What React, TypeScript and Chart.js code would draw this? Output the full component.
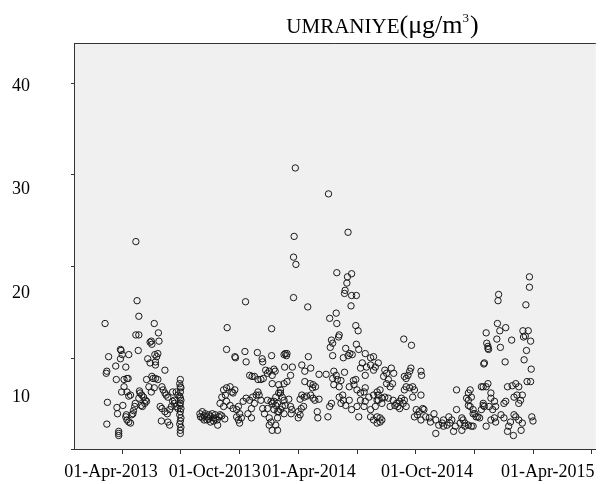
import { useEffect, useRef } from "react";
import { Chart, registerables } from "chart.js";

Chart.register(...registerables);

// ---- text ----
const TITLE_MAIN = "UMRANIYE";
const TITLE_UNIT = "(μg/m";
const TITLE_SUP = "3";
const TITLE_CLOSE = ")";

// ---- axes ----
const X_MIN = -69.4;
const X_MAX = 810.9;
const Y_MIN = 5;
const Y_MAX = 44.15;
const yLabelValues = [10, 20, 30, 40];
const yTickMarkValues = [40.29, 31.47, 22.65, 13.82, 5.0];
const xLabelPositions = [-7, 168, 327, 526, 730];
const xLabels = ["01-Apr-2013", "01-Oct-2013", "01-Apr-2014", "01-Oct-2014", "01-Apr-2015"];
const xTickMarkValues = [11, 109, 209, 309, 408, 506, 605, 705, 803];

// ---- observations: [day index, concentration] ----
const spring2013: [number, number][] = [
  [-17, 17.1], [-11, 13.9], [-15, 12.3], [-14, 12.5], [-13, 9.5], [-14, 7.4], [6, 6.5], [6, 6.3], [6, 6.7],
  [1, 13.0], [2, 11.7], [3, 9.0], [4, 8.4], [9, 13.7], [9, 14.6], [10, 14.5], [12, 14.1], [18, 12.9], [15, 11.7],
  [20, 11.8], [22, 11.8], [11, 10.5], [15, 11.0], [20, 10.5], [23, 10.1], [26, 10.2], [13, 9.2], [18, 8.1],
  [20, 7.8], [23, 7.6], [26, 7.5], [19, 8.3], [28, 8.3], [30, 8.4], [31, 8.7], [33, 9.1], [34, 9.4], [23, 14.1],
  [35, 25.0], [37, 19.3], [40, 17.8], [35, 16.0], [40, 16.0], [39, 14.5], [41, 10.6], [42, 10.4], [45, 10.2],
  [48, 10.0], [51, 9.7], [50, 9.4], [53, 9.6], [40, 9.9], [44, 9.2], [46, 9.1], [55, 13.7], [59, 13.3], [59, 15.3],
  [62, 15.1], [61, 15.4], [53, 11.7], [62, 12.0], [64, 11.8], [68, 11.8], [72, 11.7], [66, 17.1], [73, 16.2],
  [74, 15.4], [67, 14.1], [70, 13.9], [68, 13.4], [72, 14.2], [68, 13.1], [57, 11.0], [61, 10.5], [66, 10.9],
  [79, 11.0], [81, 10.7], [84, 10.4], [86, 10.2], [89, 10.0], [84, 12.6], [76, 9.1], [79, 8.9], [84, 8.6],
  [88, 8.4], [92, 8.8], [95, 9.1], [97, 9.6], [100, 9.7], [97, 10.5], [78, 7.7], [89, 7.6], [92, 7.3], [100, 9.4],
  [103, 9.1], [106, 8.9], [103, 10.5], [106, 10.2],
  [110, 11.7], [109, 11.3], [111, 10.9], [110, 10.5], [109, 10.1], [111, 9.7], [110, 9.4], [109, 9.2], [111, 8.9],
  [110, 8.6], [109, 8.3], [111, 8.0], [110, 7.7], [109, 7.4], [111, 7.1], [110, 6.8], [110, 6.5], [110, 11.0], [110, 9.9],
];

const autumn2013: [number, number][] = [
  [143, 8.4], [147, 8.6], [150, 8.2], [152, 8.4], [155, 8.1], [158, 8.3], [161, 8.1], [164, 8.4], [166, 8.0],
  [169, 8.3], [172, 7.8], [175, 8.1], [177, 8.3], [180, 8.2], [185, 7.9], [173, 7.3], [161, 7.6], [155, 7.8],
  [144, 8.1], [150, 7.8], [147, 8.0], [158, 7.9], [166, 7.7], [169, 7.9],
  [189, 16.7], [220, 19.2], [188, 14.6], [202, 13.9], [203, 13.8], [219, 14.4], [221, 13.4], [240, 14.3],
  [248, 13.7], [249, 13.4], [264, 14.0], [227, 12.1], [231, 12.0], [235, 12.0], [241, 11.7], [246, 11.7],
  [250, 11.8], [254, 12.6], [257, 12.3], [260, 12.5], [265, 12.1], [270, 12.5], [268, 12.7], [265, 11.3], [264, 16.6],
  [183, 10.7], [188, 10.9], [194, 11.0], [197, 10.5], [199, 10.4], [202, 10.7], [186, 10.2], [180, 10.0],
  [177, 9.4], [183, 9.1], [188, 9.6], [194, 9.2], [199, 8.9], [205, 8.8], [208, 9.1], [210, 8.4], [213, 8.0],
  [208, 7.8], [210, 7.5], [205, 8.1], [216, 9.6], [221, 9.9], [227, 9.7], [232, 10.0], [238, 10.2], [241, 10.5],
  [243, 10.2], [246, 9.7], [235, 9.4], [230, 8.9], [224, 8.4], [230, 8.0], [249, 8.9], [257, 9.7], [263, 9.6],
  [265, 9.4], [271, 9.2], [274, 8.6], [276, 10.4], [279, 10.7], [271, 10.0], [260, 8.0], [263, 7.6], [271, 7.3],
  [274, 8.0], [265, 6.8], [282, 9.1], [285, 8.4],
];

const spring2014: [number, number][] = [
  [304, 32.1], [360, 29.6], [302, 25.5], [393, 25.9], [301, 23.5], [305, 22.8], [374, 22.0], [399, 21.9],
  [392, 21.6], [391, 21.0], [388, 20.3], [387, 20.0], [399, 19.8], [407, 19.8], [301, 19.6], [325, 18.7], [398, 18.8],
  [287, 14.2], [290, 14.2], [289, 14.0], [326, 13.9], [362, 17.6], [373, 18.1], [374, 17.1], [378, 16.0],
  [377, 15.8], [365, 15.5], [367, 15.2], [363, 14.8], [367, 14.0], [406, 16.9], [410, 16.4], [407, 15.1],
  [389, 14.7], [385, 13.8], [393, 14.0], [396, 14.2], [400, 14.1], [411, 14.6], [422, 14.2], [431, 13.8],
  [417, 13.3], [424, 12.9], [414, 12.8], [422, 12.1], [406, 11.7],
  [286, 12.9], [299, 12.9], [296, 12.1], [290, 11.5], [315, 13.1], [330, 12.8], [320, 12.5], [344, 12.2],
  [356, 12.2], [369, 12.5], [373, 12.1], [367, 11.8], [375, 11.7], [387, 12.4], [381, 11.6], [369, 11.2],
  [378, 11.0], [395, 11.0], [402, 11.6], [320, 11.5], [329, 11.3], [334, 11.2], [338, 11.0], [333, 10.9],
  [315, 10.2], [319, 10.0], [323, 10.1], [312, 9.8], [330, 10.2], [334, 9.9], [337, 9.7], [344, 9.8],
  [276, 11.2], [279, 10.4], [282, 10.0], [285, 9.7], [293, 9.8], [268, 9.6], [274, 9.4], [279, 8.8], [276, 8.6],
  [287, 9.2], [296, 9.1], [298, 8.8], [297, 8.4], [309, 8.6], [312, 8.3], [309, 8.0], [314, 8.9], [318, 9.1],
  [341, 8.6], [342, 8.0], [359, 8.1], [362, 9.1], [365, 9.4], [378, 10.0], [384, 10.2], [385, 9.7], [381, 9.4],
  [260, 7.3], [274, 6.8], [268, 8.8], [252, 8.4], [257, 8.9], [285, 14.1], [285, 11.3], [395, 9.7], [389, 9.2], [399, 8.8],
];

const summer2014: [number, number][] = [
  [403, 11.2], [408, 10.7], [414, 10.4], [420, 10.5], [422, 10.9], [428, 10.0], [436, 10.2], [442, 10.5],
  [447, 10.7], [444, 9.7], [450, 9.4], [439, 9.1], [431, 8.8], [420, 9.1], [408, 9.1], [411, 8.1], [431, 8.1],
  [436, 7.8], [442, 7.5], [447, 8.0], [414, 9.7], [422, 9.6], [431, 13.1], [439, 12.9], [444, 13.3],
  [487, 15.6], [500, 15.0], [436, 13.9], [436, 12.6], [455, 12.6], [458, 12.3], [453, 12.0], [461, 11.7],
  [466, 12.8], [470, 12.3], [468, 11.3], [464, 11.0], [458, 11.3], [444, 10.2], [442, 9.7], [450, 9.9],
  [455, 10.0], [461, 9.9], [464, 9.1], [442, 8.1], [447, 7.6], [450, 7.8],
  [469, 9.7], [475, 9.4], [477, 9.1], [472, 9.2], [480, 9.6], [483, 9.9], [488, 9.7], [486, 9.4], [491, 9.1], [480, 8.9],
  [488, 12.0], [491, 11.8], [494, 12.1], [497, 12.5], [499, 12.8], [491, 11.0], [497, 10.9], [502, 11.0],
  [505, 10.7], [488, 10.7], [502, 10.0], [516, 12.5], [517, 12.1], [516, 10.2],
  [508, 8.8], [510, 8.3], [513, 8.6], [519, 8.9], [521, 8.8], [505, 8.1], [516, 7.8],
  [524, 8.1], [530, 8.0], [532, 7.6], [538, 8.4], [541, 7.8], [546, 7.3], [552, 7.5], [554, 7.2], [560, 7.3],
  [565, 7.5], [568, 7.8], [574, 7.2], [582, 7.5], [587, 7.8], [590, 7.2], [596, 7.3], [604, 7.2], [571, 6.7],
  [541, 6.5], [554, 7.8], [563, 8.1], [576, 8.8], [585, 8.0], [576, 10.7],
];

const winter2014: [number, number][] = [
  [599, 10.7], [601, 10.0], [596, 9.7], [599, 9.1], [604, 8.8], [607, 8.4], [612, 8.1], [618, 8.8], [621, 9.4],
  [623, 9.1], [626, 7.2], [618, 11.0], [629, 11.3], [623, 13.3], [626, 16.2], [627, 15.2], [629, 14.7],
  [699, 21.6], [699, 20.6], [647, 19.9], [646, 19.3], [693, 18.9], [645, 17.1], [649, 16.4], [659, 16.7],
  [688, 16.4], [697, 16.4], [689, 15.8], [692, 15.9], [701, 15.4], [669, 15.5], [644, 15.6], [629, 14.9],
  [630, 14.6], [650, 14.8], [694, 14.5], [622, 13.2], [658, 13.4], [690, 13.6], [702, 12.7], [695, 11.5], [701, 11.5],
  [662, 11.0], [670, 11.1], [676, 11.3], [681, 11.0], [673, 10.0], [678, 10.2], [684, 9.7], [687, 10.2],
  [681, 9.4], [656, 9.4], [659, 9.6],
  [703, 8.1], [705, 7.7], [687, 7.5], [681, 7.8], [676, 8.1], [673, 8.3], [667, 7.6], [664, 7.2], [662, 6.7],
  [672, 6.3], [685, 6.8], [656, 8.0], [651, 8.3], [642, 7.6], [640, 8.0], [634, 7.8], [637, 8.8], [631, 9.1],
  [642, 9.1], [640, 9.6], [634, 9.9],
  [596, 10.4], [593, 9.9], [596, 9.2], [604, 8.4], [609, 8.1], [615, 8.0], [590, 7.5], [585, 6.8], [601, 7.2],
  [621, 9.2], [626, 11.0], [621, 11.0], [634, 10.4],
];

const SERIF = '"Liberation Serif", "Times New Roman", serif';

const framePlugin = {
  id: "frame",
  beforeDraw(chart: any) {
    const { ctx, chartArea } = chart;
    ctx.save();
    ctx.fillStyle = "#f0f0f0";
    ctx.fillRect(chartArea.left, chartArea.top, chartArea.right - chartArea.left, chartArea.bottom - chartArea.top);
    ctx.restore();
  },
  afterDraw(chart: any) {
    const { ctx, chartArea, scales } = chart;
    ctx.save();
    ctx.strokeStyle = "#333";
    ctx.lineWidth = 1;
    // top frame line
    ctx.beginPath();
    ctx.moveTo(chartArea.left, chartArea.top + 0.5);
    ctx.lineTo(chartArea.right, chartArea.top + 0.5);
    ctx.stroke();
    // x tick marks
    ctx.beginPath();
    for (const v of xTickMarkValues) {
      const px = Math.round(scales.x.getPixelForValue(v)) + 0.5;
      ctx.moveTo(px, chartArea.bottom);
      ctx.lineTo(px, chartArea.bottom + 5);
    }
    // y tick marks
    for (const v of yTickMarkValues) {
      const py = Math.round(scales.y.getPixelForValue(v)) + 0.5;
      ctx.moveTo(chartArea.left - 3, py);
      ctx.lineTo(chartArea.left, py);
    }
    ctx.stroke();

    // title
    ctx.fillStyle = "#000";
    ctx.textBaseline = "alphabetic";
    ctx.textAlign = "left";
    const fMain = `21px ${SERIF}`;
    const fUnit = `26px ${SERIF}`;
    const fSup = `13px ${SERIF}`;
    ctx.font = fMain;
    const w1 = ctx.measureText(TITLE_MAIN).width;
    ctx.font = fUnit;
    const w2 = ctx.measureText(TITLE_UNIT).width;
    const w4 = ctx.measureText(TITLE_CLOSE).width;
    ctx.font = fSup;
    const w3 = ctx.measureText(TITLE_SUP).width;
    const total = w1 + w2 + w3 + 1 + w4;
    let x = 382.5 - total / 2;
    const base = 32.5;
    ctx.font = fMain;
    ctx.fillText(TITLE_MAIN, x, base);
    x += w1;
    ctx.font = fUnit;
    ctx.fillText(TITLE_UNIT, x, base);
    x += w2;
    ctx.font = fSup;
    ctx.fillText(TITLE_SUP, x, 22);
    x += w3 + 1;
    ctx.font = fUnit;
    ctx.fillText(TITLE_CLOSE, x, base);
    ctx.restore();
  },
};

export default function App() {
  const canvasRef = useRef<HTMLCanvasElement | null>(null);

  useEffect(() => {
    const canvas = canvasRef.current;
    if (!canvas) return;
    const all = [...spring2013, ...autumn2013, ...spring2014, ...summer2014, ...winter2014];
    const chart = new Chart(canvas, {
      type: "scatter",
      data: {
        datasets: [
          {
            data: all.map(([x, y]) => ({ x, y })),
            pointRadius: 3.2,
            pointHoverRadius: 3.2,
            pointBorderWidth: 1,
            borderColor: "#1a1a1a",
            backgroundColor: "rgba(0,0,0,0)",
            pointBackgroundColor: "rgba(0,0,0,0)",
            pointBorderColor: "#1a1a1a",
          } as any,
        ],
      },
      options: {
        animation: false,
        responsive: false,
        devicePixelRatio: 1,
        layout: { padding: { top: 43, left: 12, right: 0, bottom: 0 } },
        plugins: {
          legend: { display: false },
          tooltip: { enabled: false },
          title: { display: false },
        },
        scales: {
          x: {
            type: "linear",
            min: X_MIN,
            max: X_MAX,
            afterBuildTicks: (s: any) => {
              s.ticks = xLabelPositions.map((v) => ({ value: v }));
            },
            afterFit: (s: any) => {
              s.height = 35;
            },
            ticks: {
              autoSkip: false,
              maxRotation: 0,
              minRotation: 0,
              padding: 12,
              color: "#000",
              font: { family: SERIF, size: 18 },
              callback: (_v: any, i: number) => xLabels[i],
            },
            grid: { display: false, drawTicks: false },
            border: { display: true, color: "#333", width: 1 },
          },
          y: {
            type: "linear",
            min: Y_MIN,
            max: Y_MAX,
            afterBuildTicks: (s: any) => {
              s.ticks = yLabelValues.map((v) => ({ value: v }));
            },
            afterFit: (s: any) => {
              s.width = 62;
            },
            ticks: {
              padding: 0,
              crossAlign: "far",
              color: "#000",
              font: { family: SERIF, size: 18 },
              callback: (v: any) => String(v),
            },
            grid: { display: false, drawTicks: false },
            border: { display: true, color: "#333", width: 1 },
          },
        },
      } as any,
      plugins: [framePlugin],
    });
    return () => chart.destroy();
  }, []);

  return (
    <div style={{ position: "absolute", left: 0, top: 0, width: 607, height: 484, background: "#fff" }}>
      <canvas ref={canvasRef} width={607} height={484} style={{ display: "block" }} />
    </div>
  );
}
